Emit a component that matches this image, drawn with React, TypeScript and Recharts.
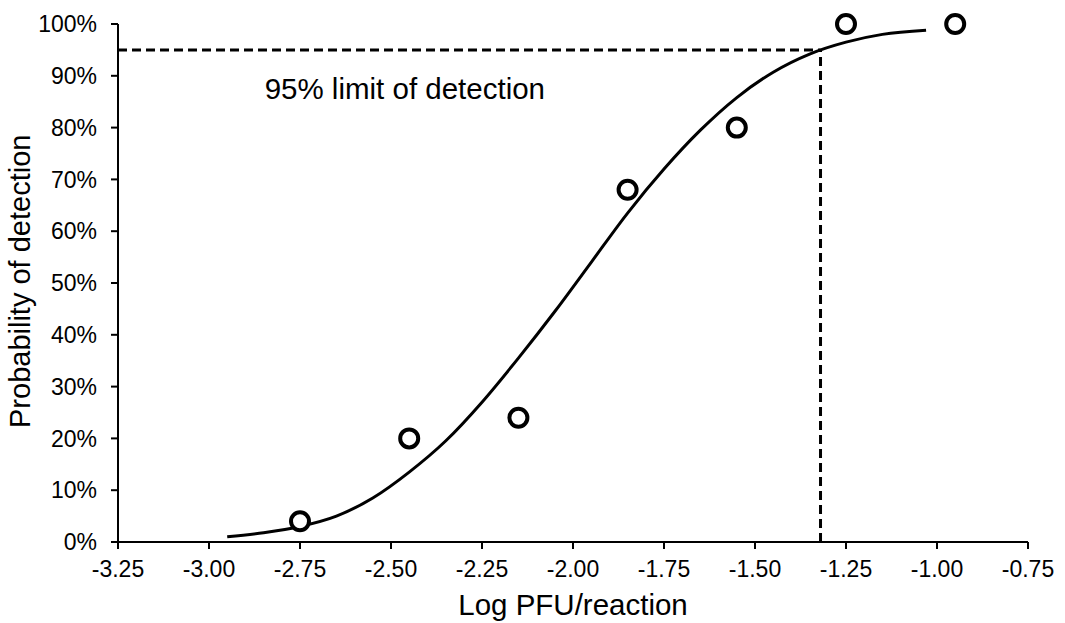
import {
  ComposedChart,
  Line,
  Scatter,
  XAxis,
  YAxis,
  ReferenceLine,
  ReferenceDot,
} from 'recharts';

// observed detection rates (log PFU/reaction, % positive)
const observedX = [-2.75, -2.45, -2.15, -1.85, -1.55, -1.25, -0.95];
const observedY = [4, 20, 24, 68, 80, 100, 100];

// fitted curve
const fitX = [-2.95, -2.85, -2.75, -2.65, -2.55, -2.45, -2.35, -2.25, -2.15, -2.05, -1.95, -1.85, -1.75, -1.65, -1.55, -1.45, -1.35, -1.25, -1.15, -1.03];
const fitY = [1.0, 1.8, 3.0, 5.0, 8.5, 13.5, 19.5, 27, 35.5, 44.5, 54, 63.5, 72, 79.5, 85.8, 90.7, 94.2, 96.5, 98, 98.8];

const xTicks = [-3.25, -3.0, -2.75, -2.5, -2.25, -2.0, -1.75, -1.5, -1.25, -1.0, -0.75];
const yTicks = [0, 10, 20, 30, 40, 50, 60, 70, 80, 90, 100];

const lodX = -1.32;
const lodY = 95;
const noteX = -2.462;
const noteY = 87.6;

const observed = observedX.map((x, i) => ({ x, y: observedY[i] }));
const fit = fitX.map((x, i) => ({ x, y: fitY[i] }));

const font = '"Liberation Sans", Arial, sans-serif';

const Ring = (props: any) => (
  <circle cx={props.cx} cy={props.cy} r={9} fill="#fff" stroke="#000" strokeWidth={4} />
);

export default function App() {
  return (
    <div style={{ position: 'absolute', left: 0, top: 0, background: '#fff' }}>
      <ComposedChart
        width={1065}
        height={623}
        margin={{ top: 24, right: 37, bottom: 21, left: 38 }}
        style={{ fontFamily: font }}
      >
        <XAxis
          type="number"
          dataKey="x"
          domain={[-3.25, -0.75]}
          ticks={xTicks}
          tickFormatter={(v: number) => v.toFixed(2)}
          interval={0}
          height={60}
          stroke="#000"
          strokeWidth={2}
          tickSize={7}
          tickMargin={12}
          tick={{ fill: '#000', fontSize: 23 }}
          label={{ value: 'Log PFU/reaction', position: 'insideBottom', offset: -13, fill: '#000', fontSize: 29.5 }}
        />
        <YAxis
          type="number"
          dataKey="y"
          domain={[0, 100]}
          ticks={yTicks}
          tickFormatter={(v: number) => `${v}%`}
          interval={0}
          width={80}
          stroke="#000"
          strokeWidth={2}
          tickSize={7}
          tickMargin={14}
          tick={{ fill: '#000', fontSize: 23 }}
          label={{ value: 'Probability of detection', angle: -90, position: 'insideLeft', offset: -18, dy: 145, fill: '#000', fontSize: 29 }}
        />
        <ReferenceLine
          segment={[{ x: -3.25, y: lodY }, { x: lodX, y: lodY }]}
          stroke="#000"
          strokeWidth={3}
          strokeDasharray="9 5"
        />
        <ReferenceLine
          segment={[{ x: lodX, y: 0 }, { x: lodX, y: lodY }]}
          stroke="#000"
          strokeWidth={3}
          strokeDasharray="9 5"
        />
        <Line
          data={fit}
          dataKey="y"
          type="monotone"
          stroke="#000"
          strokeWidth={3}
          dot={false}
          activeDot={false}
          isAnimationActive={false}
        />
        <Scatter data={observed} dataKey="y" shape={Ring} isAnimationActive={false} />
        <ReferenceDot
          x={noteX}
          y={noteY}
          r={0}
          stroke="none"
          label={{ value: '95% limit of detection', position: 'center', fill: '#000', fontSize: 29.5 }}
        />
      </ComposedChart>
    </div>
  );
}
